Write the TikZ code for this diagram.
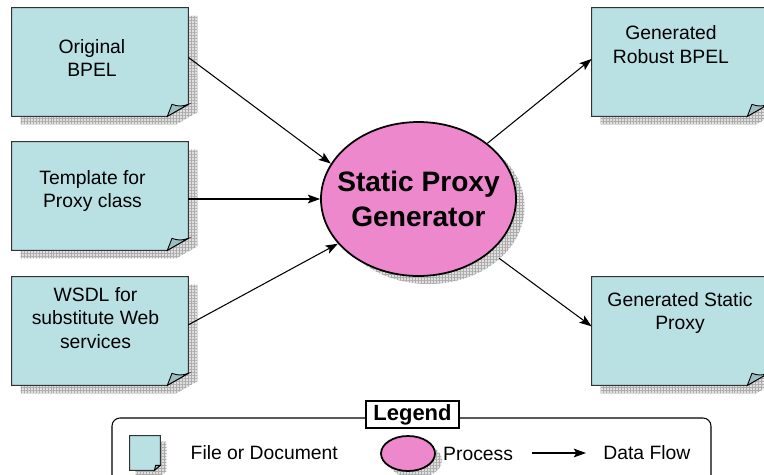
\documentclass[tikz,border=0pt]{standalone}
\usepackage{fontspec}
\setmainfont{Liberation Sans}
\usetikzlibrary{shapes.geometric, arrows.meta, patterns.meta, positioning}

\definecolor{papercyan}{RGB}{185,224,227}
\definecolor{procpink}{RGB}{238,136,204}

\pgfdeclarelayer{back}
\pgfsetlayers{back,main}

% document shape: shadow, sheet with cut corner, curled fold
% #1 node, #2 fold width, #3 fold height, #4/#5 shadow offset
\newcommand{\paperbox}[5]{%
  \begin{pgfonlayer}{back}
    \fill[paper shadow] ([shift={(#4,#5)}]#1.north west) -- ([shift={(#4,#5)}]#1.north east)
      -- ([shift={(#4,{#5-#3})}]#1.south east) -- ([shift={({#4-#2},#5)}]#1.south east)
      -- ([shift={(#4,#5)}]#1.south west) -- cycle;
    \filldraw[paper] (#1.north west) -- (#1.north east) -- ([shift={(0,-#3)}]#1.south east)
      -- ([shift={(-#2,0)}]#1.south east) -- (#1.south west) -- cycle;
    \filldraw[paper fold] ([shift={(-#2,0)}]#1.south east) -- ([shift={({-0.78*#2},-#3)}]#1.south east)
      to[bend right=20] ([shift={(0,-#3)}]#1.south east) -- cycle;
  \end{pgfonlayer}}

\begin{document}
\begin{tikzpicture}[x=0.02cm, y=-0.02cm,
    doc/.style={minimum width=3.52cm, minimum height=2.16cm, inner sep=0pt},
    paper/.style={fill=papercyan, draw=black!80, line width=0.6pt},
    paper fold/.style={fill=papercyan!85!black, draw=black, line width=0.5pt},
    paper shadow/.style={preaction={fill=gray!25}, pattern={Hatch[distance=1.7pt, line width=0.3pt]}, pattern color=gray!65},
    doctext/.style={align=center, font=\fontsize{11}{13.6}\selectfont, inner sep=0pt},
    process/.style={ellipse, draw, line width=1pt, fill=procpink, inner sep=0pt, align=center},
    flow/.style={-{Stealth[length=7pt, width=5pt, inset=1.5pt]}, line width=0.6pt},
    keytext/.style={font=\fontsize{11}{13}\selectfont, inner sep=0pt}]
    \useasboundingbox (0,0) rectangle (764,474);

    % input documents
    \node[doc] (o1) at (100,62) {};
    \node[doc] (o2) at (100,196) {};
    \node[doc] (o3) at (100,331) {};
    \paperbox{o1}{21}{12}{9}{8}
    \paperbox{o2}{21}{12}{9}{8}
    \paperbox{o3}{21}{12}{9}{8}
    \node[doctext] (o1-txt) at ([shift={(-8,-4)}]o1) {Original\\BPEL};
    \node[doctext] (o2-txt) at ([shift={(-7.5,-5)}]o2) {Template for\\Proxy class};
    \node[doctext] (o3-txt) at ([shift={(-4.5,-13)}]o3) {WSDL for\\substitute Web\\services};

    % output documents
    \node[doc] (r1) at (680,62) {};
    \node[doc] (r2) at (680,331) {};
    \paperbox{r1}{21}{12}{9}{8}
    \paperbox{r2}{21}{12}{9}{8}
    \node[doctext] (r1-txt) at ([shift={(-9,-17)}]r1) {Generated\\Robust BPEL};
    \node[doctext] (r2-txt) at ([shift={(0,-18)}]r2) {Generated Static\\Proxy};

    % generator
    \node[process, minimum width=3.84cm, minimum height=3.08cm, inner xsep=-7pt,
          font=\bfseries\fontsize{16}{19.5}\selectfont] (gen) at (418.5,199) {Static Proxy\\Generator};
    \begin{pgfonlayer}{back}
        \fill[paper shadow] ([shift={(10,8)}]gen.center) ellipse [x radius=1.92cm, y radius=1.54cm];
    \end{pgfonlayer}

    % data flows
    \draw[flow] (o1.3) -- (gen.158);
    \draw[flow] (o2.east |- gen.west) -- (gen.west);
    \draw[flow] (o3.4) -- (gen.209);
    \draw[flow] (gen) -- (r1.178);
    \draw[flow, shorten <=6pt] (gen) -- (r2.177);

    % legend
    \draw[line width=0.6pt, rounded corners=0.16cm] (112,418) rectangle (711,500);
    \node[draw, fill=white, line width=0.6pt, minimum width=1.86cm, minimum height=0.54cm, inner sep=0pt,
          font=\bfseries\fontsize{12.5}{15}\selectfont] (legend) at (412.5,414.5) {Legend};

    \node[minimum width=0.6cm, minimum height=0.68cm, inner sep=0pt] (keydoc) at (145,453) {};
    \paperbox{keydoc}{6}{5}{6}{6}
    \node[keytext, right=0.6cm of keydoc] (keydoc-txt) {File or Document};

    \node[process, minimum width=1.08cm, minimum height=0.7cm] (keyproc) at (408,453.5) {};
    \begin{pgfonlayer}{back}
        \fill[paper shadow] ([shift={(7,7)}]keyproc.center) ellipse [x radius=0.54cm, y radius=0.35cm];
    \end{pgfonlayer}
    \node[keytext, right=0.14cm of keyproc] (keyproc-txt) {Process};

    \coordinate (keyflow-a) at (532,453);
    \coordinate (keyflow-b) at (586,453);
    \draw[flow] (keyflow-a) -- (keyflow-b);
    \node[keytext, right=0.34cm of keyflow-b] (keyflow-txt) {Data Flow};
\end{tikzpicture}
\end{document}
